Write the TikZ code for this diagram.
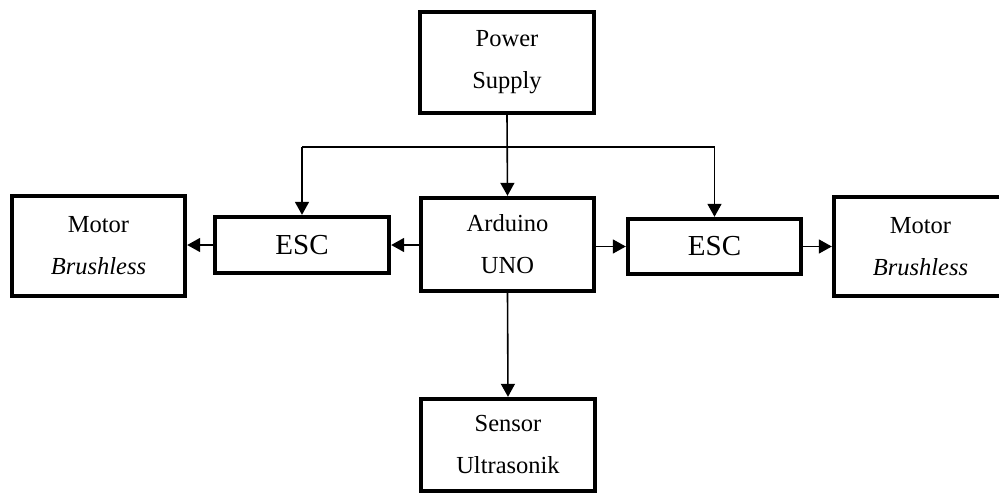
\documentclass[tikz,border=0pt]{standalone}
\usepackage{fontspec}
\setmainfont{Liberation Serif}
\usetikzlibrary{arrows.meta}
\begin{document}
\begin{tikzpicture}[x=1pt,y=-1pt,
  blk/.style={draw, line width=4.4pt, rectangle, inner sep=0pt, align=center,
    font=\fontsize{24.5}{42}\selectfont},
  escbox/.style={blk, font=\fontsize{29}{34}\selectfont},
  arr/.style={line width=1.6pt, -{Triangle[length=13pt,width=14pt]}},
  bus/.style={line width=1.5pt}]
\clip (0,0) rectangle (999,496);
\node[blk, minimum width=174pt, minimum height=101pt] (ps) at (507,62.5) {Power\\Supply};
\node[blk, minimum width=173pt, minimum height=93pt] (ard) at (507.5,244.5) {Arduino\\UNO};
\node[escbox, minimum width=174pt, minimum height=56pt] (escL) at (302,245) {ESC};
\node[escbox, minimum width=173pt, minimum height=55pt] (escR) at (714.5,246.5) {ESC};
\node[blk, minimum width=173pt, minimum height=100pt] (motL) at (98.5,246) {Motor\\\textit{Brushless}};
\node[blk, minimum width=173pt, minimum height=99pt] (motR) at (920.5,246.5) {Motor\\\textit{Brushless}};
\node[blk, minimum width=174pt, minimum height=92pt] (sen) at (508,445) {Sensor\\Ultrasonik};
\coordinate (busc) at (507,147);
\draw[arr] (ps.south) -- (ard.north);
\draw[bus] (escL.north |- busc) -- (escR.north |- busc);
\draw[arr] (escL.north |- busc) -- (escL.north);
\draw[arr] (escR.north |- busc) -- (escR.north);
\draw[arr] (ard.west |- escL.east) -- (escL.east);
\draw[arr] (escL.west) -- (motL.east |- escL.west);
\draw[arr] (ard.east |- escR.west) -- (escR.west);
\draw[arr] (escR.east) -- (motR.west |- escR.east);
\draw[arr] (ard.south) -- (sen.north);
\end{tikzpicture}
\end{document}
